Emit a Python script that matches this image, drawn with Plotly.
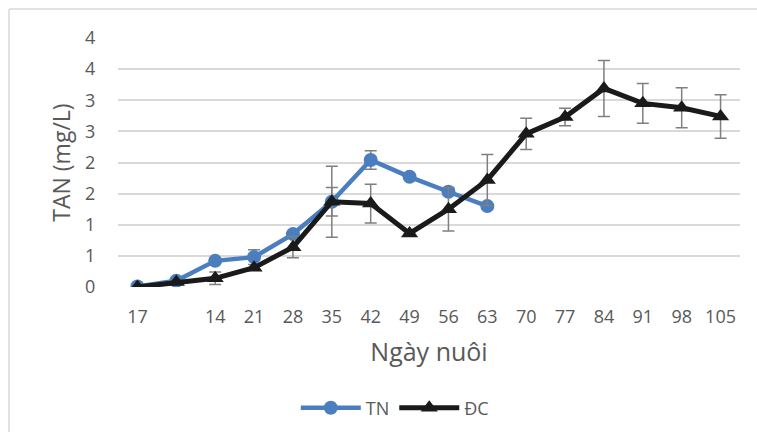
import plotly.graph_objects as go

tick_labels = ["17", "", "14", "21", "28", "35", "42", "49", "56", "63",
               "70", "77", "84", "91", "98", "105"]
x_pos = list(range(len(tick_labels)))

tn_values = [0.01, 0.10, 0.42, 0.48, 0.85, 1.37, 2.04, 1.77, 1.53, 1.30]
tn_err = [0.0, 0.0, 0.0, 0.12, 0.0, 0.23, 0.15, 0.0, 0.05, 0.0]

dc_values = [0.0, 0.08, 0.14, 0.31, 0.64, 1.37, 1.34, 0.86, 1.25, 1.72,
             2.46, 2.73, 3.19, 2.95, 2.88, 2.74]
dc_err = [0.0, 0.0, 0.10, 0.0, 0.17, 0.57, 0.31, 0.0, 0.35, 0.41,
          0.25, 0.14, 0.45, 0.32, 0.32, 0.35]

y_tickvals = [0, 0.5, 1, 1.5, 2, 2.5, 3, 3.5, 4]
y_ticktext = ["0", "1", "1", "2", "2", "3", "3", "4", "4"]

BLUE = "#4A7EBF"
BLACK = "#1a1a1a"
ERR = "#7f7f7f"
FONT = "Open Sans, Liberation Sans, sans-serif"

fig = go.Figure()
fig.add_trace(go.Scatter(
    x=x_pos[:len(tn_values)], y=tn_values, name="TN",
    mode="lines+markers",
    line=dict(color=BLUE, width=4.5),
    marker=dict(symbol="circle", size=14, color=BLUE),
    error_y=dict(type="data", array=tn_err, color=ERR, thickness=1.5, width=6),
))
fig.add_trace(go.Scatter(
    x=x_pos, y=dc_values, name="ĐC",
    mode="lines+markers",
    line=dict(color=BLACK, width=5),
    marker=dict(symbol="triangle-up", size=15, color=BLACK),
    error_y=dict(type="data", array=dc_err, color=ERR, thickness=1.5, width=6),
))

fig.update_layout(
    width=757, height=432,
    margin=dict(l=118, r=17, t=38, b=145),
    paper_bgcolor="white", plot_bgcolor="white",
    font=dict(family=FONT, color="#595959", size=18),
    showlegend=True,
    legend=dict(orientation="h", x=0.445, xanchor="center",
                yref="container", y=1 - 408 / 432, yanchor="middle",
                font=dict(size=18, color="#595959"), itemwidth=60,
                tracegroupgap=0),
    xaxis=dict(
        range=[-0.5, 15.5], tickmode="array", tickvals=x_pos, ticktext=tick_labels,
        showgrid=False, zeroline=False, showline=False, automargin=False,
        ticks="outside", ticklen=13, tickcolor="rgba(0,0,0,0)",
        tickfont=dict(size=18, color="#595959"),
        title=dict(text="Ngày nuôi", font=dict(size=25, color="#595959"), standoff=16),
    ),
    yaxis=dict(
        range=[0, 4], tickmode="array", tickvals=y_tickvals, ticktext=y_ticktext,
        showgrid=True, gridcolor="#d9d9d9", gridwidth=1.5, zeroline=False, showline=False,
        automargin=False,
        ticks="outside", ticklen=18, tickcolor="rgba(0,0,0,0)",
        tickfont=dict(size=18, color="#595959"),
        title=dict(text="TAN (mg/L)", font=dict(size=23, color="#595959"), standoff=8),
    ),
    shapes=[
        dict(type="line", xref="paper", yref="paper",
             x0=(9 - 118) / 622, x1=(757 - 118) / 622,
             y0=(287 - 9) / 249, y1=(287 - 9) / 249,
             line=dict(color="#d9d9d9", width=1.5)),
        dict(type="line", xref="paper", yref="paper",
             x0=(9 - 118) / 622, x1=(9 - 118) / 622,
             y0=(287 - 9) / 249, y1=(287 - 432) / 249,
             line=dict(color="#d9d9d9", width=1.5)),
    ],
)

fig.write_html("out.html", config={"displayModeBar": False},
               post_script="document.body.style.margin='0';")
